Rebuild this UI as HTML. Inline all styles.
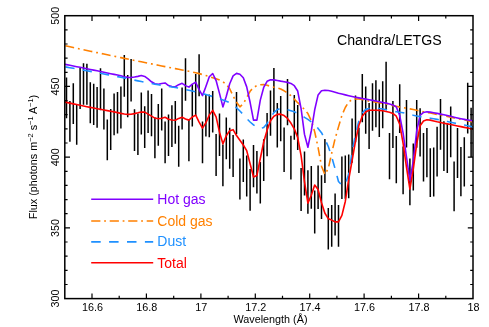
<!DOCTYPE html>
<html><head><meta charset="utf-8"><title>Chandra/LETGS</title>
<style>html,body{margin:0;padding:0;background:#fff}svg{display:block;will-change:transform}text{font-family:"Liberation Sans",sans-serif;fill:#000}</style></head><body>
<svg width="489" height="327" viewBox="0 0 489 327">
<rect width="489" height="327" fill="#fff"/>
<path d="M66.5,77.5V118.3M69.9,101.0V141.7M73.3,83.3V124.0M76.7,104.0V144.7M80.1,67.9V109.1M83.5,63.2V104.8M86.9,63.8V104.8M90.3,82.3V123.2M93.7,83.7V125.1M97.1,87.0V127.7M100.5,68.3V110.3M103.9,88.4V129.5M107.3,119.4V160.2M110.7,109.0V150.0M114.1,93.6V135.2M117.5,92.0V133.6M120.9,86.4V128.4M124.3,55.0V96.7M127.7,75.1V117.2M131.1,59.1V101.4M134.5,109.3V151.0M137.9,113.4V155.1M141.3,92.5V134.6M144.7,106.2V147.9M148.1,90.5V132.9M151.5,93.9V136.2M154.9,117.5V158.2M158.3,104.0V145.7M161.7,88.4V130.5M165.1,121.6V163.3M168.5,114.4V156.1M171.9,105.2V146.9M175.3,101.1V143.8M178.7,125.7V166.7M182.1,87.4V129.5M185.5,58.3V100.7M188.9,119.5V161.2M192.3,84.3V126.4M195.7,74.0V116.1M199.1,54.2V96.2M202.5,121.6V163.3M205.9,95.0V136.6M209.3,94.5V137.2M212.7,90.9V132.5M216.1,133.9V176.0M219.5,113.4V156.1M222.9,144.5V186.2M226.3,117.5V159.2M229.7,127.7V168.7M233.1,134.9V177.0M236.5,92.0V134.2M239.9,158.5V199.5M243.3,139.6V182.1M246.7,155.4V196.5M250.1,169.0V210.7M253.5,145.0V187.2M256.9,151.0V193.4M260.3,161.9V203.6M263.7,139.2V181.1M267.1,112.9V156.3M270.5,90.5V135.7M273.9,68.0V112.2M277.3,103.0V147.5M280.7,96.0V141.2M284.1,127.6V171.9M287.5,79.0V125.2M290.9,135.7V179.5M294.3,95.0V139.8M297.7,105.0V149.9M301.1,168.0V210.9M304.5,151.4V195.5M307.9,170.3V213.7M311.3,166.0V208.8M314.7,190.6V233.5M318.1,165.5V208.9M321.5,175.3V218.9M324.9,139.0V183.0M328.3,208.0V249.5M331.7,205.0V246.8M335.1,193.4V235.5M338.5,205.0V246.8M341.9,156.4V199.1M345.3,155.4V198.7M348.7,154.4V198.3M352.1,118.5V162.7M355.5,95.6V142.3M358.9,127.7V173.0M362.3,74.0V122.2M365.7,86.4V133.7M369.1,103.1V149.1M372.5,83.3V130.7M375.9,80.2V127.2M379.3,89.4V137.1M382.7,81.2V128.3M386.1,61.8V109.9M389.5,133.0V179.2M392.9,101.1V148.0M396.3,136.0V183.2M399.7,84.3V132.9M403.1,146.5V194.2M406.5,100.0V147.4M409.9,158.6V205.2M413.3,143.5V190.5M416.7,100.0V147.7M420.1,108.3V156.4M423.5,132.9V181.4M426.9,127.9V177.2M430.3,148.2V197.1M433.7,147.4V196.4M437.1,126.7V176.4M440.5,99.1V149.7M443.9,121.3V171.1M447.3,124.0V173.0M450.7,106.6V157.3M454.1,161.5V211.2M457.5,128.0V177.9M460.9,147.0V196.3M464.3,137.2V186.5M467.7,82.8V133.6M471.1,107.7V156.9" stroke="#000" stroke-width="1.5" fill="none"/>
<path d="M64.80,45.70 L66.50,46.07 L69.90,46.81 L73.30,47.55 L76.70,48.28 L80.10,49.02 L83.50,49.75 L86.90,50.48 L90.30,51.20 L93.70,51.93 L97.10,52.65 L100.50,53.37 L103.90,54.08 L107.30,54.80 L110.70,55.51 L114.10,56.22 L117.50,56.93 L120.90,57.64 L124.30,58.35 L127.70,59.05 L131.10,59.75 L134.50,60.45 L137.90,61.15 L141.30,61.83 L144.70,62.52 L148.10,63.20 L151.50,63.88 L154.90,64.56 L158.30,65.24 L161.70,65.92 L165.10,66.60 L168.50,67.29 L171.90,67.98 L175.30,68.65 L178.70,69.31 L182.10,69.97 L185.50,70.64 L188.90,71.32 L192.30,72.04 L195.70,72.81 L199.10,73.62 L202.50,74.52 L205.90,75.50 L209.30,76.57 L212.70,77.70 L216.10,78.83 L219.50,80.08 L222.90,81.73 L226.30,84.37 L229.70,88.78 L233.10,95.91 L236.50,102.29 L239.90,106.84 L243.30,103.60 L246.70,97.67 L250.10,91.26 L253.50,87.43 L256.90,85.63 L260.30,84.70 L263.70,84.43 L267.10,85.21 L270.50,86.37 L273.90,87.21 L277.30,88.00 L280.70,89.07 L284.10,90.82 L287.50,92.86 L290.90,95.71 L294.30,99.15 L297.70,102.69 L301.10,105.96 L304.50,109.50 L307.90,113.59 L311.30,120.69 L314.70,131.88 L318.10,147.55 L321.50,166.19 L324.90,174.48 L328.30,168.55 L331.70,153.10 L335.10,138.70 L338.50,126.90 L341.90,115.40 L345.30,107.46 L348.70,101.96 L352.10,99.50 L355.50,99.00 L358.90,99.03 L362.30,99.54 L365.70,100.37 L369.10,101.12 L372.50,101.64 L375.90,102.13 L379.30,102.66 L382.70,103.31 L386.10,104.05 L389.50,104.83 L392.90,105.62 L396.30,106.37 L399.70,107.05 L403.10,107.67 L406.50,108.28 L409.90,108.91 L413.30,109.59 L416.70,110.33 L420.10,111.04 L423.50,111.74 L426.90,112.41 L430.30,113.08 L433.70,113.75 L437.10,114.42 L440.50,115.10 L443.90,115.78 L447.30,116.48 L450.70,117.17 L454.10,117.87 L457.50,118.58 L460.90,119.29 L464.30,120.01 L467.70,120.74 L471.10,121.48 L473.00,121.90" stroke="#ff8000" stroke-width="1.6" fill="none" stroke-dasharray="9.0 3.9 1.85 3.9" stroke-dashoffset="-0.5" stroke-linejoin="round"/>
<path d="M64.80,64.30 L66.50,64.63 L69.90,65.31 L73.30,65.98 L76.70,66.66 L80.10,67.34 L83.50,68.03 L86.90,68.72 L90.30,69.41 L93.70,70.11 L97.10,70.80 L100.50,71.50 L103.90,72.21 L107.30,72.94 L110.70,73.66 L114.10,74.38 L117.50,75.09 L120.90,75.80 L124.30,76.66 L127.70,77.36 L131.10,77.45 L134.50,77.03 L137.90,76.37 L141.30,75.55 L144.70,76.45 L148.10,78.93 L151.50,81.82 L154.90,83.70 L158.30,84.17 L161.70,83.47 L165.10,82.93 L168.50,85.53 L171.90,86.58 L175.30,86.78 L178.70,84.65 L182.10,83.34 L185.50,85.64 L188.90,87.12 L192.30,84.09 L195.70,82.28 L199.10,89.54 L202.50,95.60 L205.90,86.50 L209.30,76.80 L212.70,73.50 L216.10,80.54 L219.50,93.38 L222.90,106.92 L226.30,96.25 L229.70,83.77 L233.10,75.82 L236.50,73.39 L239.90,74.25 L243.30,77.71 L246.70,86.88 L250.10,102.28 L253.50,120.09 L256.90,120.15 L260.30,100.11 L263.70,87.49 L267.10,81.27 L270.50,79.79 L273.90,79.87 L277.30,80.46 L280.70,81.12 L284.10,81.70 L287.50,82.39 L290.90,83.40 L294.30,85.71 L297.70,91.03 L301.10,108.54 L304.50,134.40 L307.90,147.27 L311.30,130.75 L314.70,109.80 L318.10,94.91 L321.50,90.74 L324.90,90.21 L328.30,90.45 L331.70,91.23 L335.10,92.25 L338.50,93.25 L341.90,94.06 L345.30,94.87 L348.70,95.68 L352.10,96.46 L355.50,97.20 L358.90,97.88 L362.30,98.53 L365.70,99.15 L369.10,99.77 L372.50,100.41 L375.90,101.08 L379.30,101.75 L382.70,102.42 L386.10,103.15 L389.50,103.99 L392.90,104.94 L396.30,106.91 L399.70,115.51 L403.10,133.12 L406.50,157.00 L409.90,180.70 L413.30,160.79 L416.70,130.98 L420.10,115.51 L423.50,112.42 L426.90,111.83 L430.30,112.14 L433.70,112.70 L437.10,113.39 L440.50,114.11 L443.90,114.77 L447.30,115.53 L450.70,116.34 L454.10,117.17 L457.50,117.96 L460.90,118.68 L464.30,119.35 L467.70,119.98 L471.10,120.58 L473.00,120.90" stroke="#8000ff" stroke-width="1.6" fill="none" stroke-linejoin="round"/>
<path d="M64.80,66.80 L66.50,67.09 L69.90,67.68 L73.30,68.28 L76.70,68.89 L80.10,69.50 L83.50,70.12 L86.90,70.74 L90.30,71.37 L93.70,72.01 L97.10,72.65 L100.50,73.30 L103.90,73.95 L107.30,74.61 L110.70,75.27 L114.10,75.94 L117.50,76.61 L120.90,77.28 L124.30,77.97 L127.70,78.69 L131.10,79.41 L134.50,80.13 L137.90,80.85 L141.30,81.56 L144.70,82.24 L148.10,82.90 L151.50,83.55 L154.90,84.19 L158.30,84.81 L161.70,85.41 L165.10,85.95 L168.50,86.48 L171.90,87.00 L175.30,87.55 L178.70,88.16 L182.10,88.83 L185.50,89.55 L188.90,90.30 L192.30,91.09 L195.70,91.91 L199.10,92.77 L202.50,93.66 L205.90,94.58 L209.30,95.53 L212.70,96.51 L216.10,97.56 L219.50,98.72 L222.90,99.94 L226.30,101.15 L229.70,102.66 L233.10,104.95 L236.50,107.73 L239.90,111.03 L243.30,114.65 L246.70,118.61 L250.10,121.99 L253.50,124.88 L256.90,127.62 L260.30,128.73 L263.70,127.43 L267.10,123.41 L270.50,117.90 L273.90,112.59 L277.30,109.59 L280.70,108.50 L284.10,108.62 L287.50,109.64 L290.90,110.67 L294.30,111.86 L297.70,113.32 L301.10,115.25 L304.50,117.33 L307.90,119.44 L311.30,121.83 L314.70,124.78 L318.10,128.38 L321.50,132.63 L324.90,139.25 L328.30,146.48 L331.70,156.86 L335.10,168.74 L338.50,181.51 L341.90,185.27 L345.30,184.36 L348.70,174.03 L352.10,152.03 L355.50,134.35 L358.90,121.00 L362.30,112.93 L365.70,109.37 L369.10,108.61 L372.50,108.38 L375.90,108.30 L379.30,108.53 L382.70,109.06 L386.10,109.67 L389.50,110.49 L392.90,111.28 L396.30,111.78 L399.70,112.21 L403.10,112.79 L406.50,113.58 L409.90,114.48 L413.30,115.33 L416.70,116.03 L420.10,116.62 L423.50,117.16 L426.90,117.68 L430.30,118.19 L433.70,118.74 L437.10,119.34 L440.50,120.01 L443.90,120.73 L447.30,121.48 L450.70,122.23 L454.10,122.96 L457.50,123.67 L460.90,124.38 L464.30,125.09 L467.70,125.80 L471.10,126.51 L473.00,126.90" stroke="#1e90ff" stroke-width="1.6" fill="none" stroke-dasharray="9.3 8.26" stroke-dashoffset="-0.6" stroke-linejoin="round"/>
<path d="M64.80,102.00 L66.50,102.38 L69.90,103.13 L73.30,103.86 L76.70,104.59 L80.10,105.30 L83.50,106.00 L86.90,106.68 L90.30,107.36 L93.70,108.03 L97.10,108.68 L100.50,109.33 L103.90,109.96 L107.30,110.59 L110.70,111.21 L114.10,111.88 L117.50,112.63 L120.90,113.36 L124.30,113.96 L127.70,114.33 L131.10,114.31 L134.50,113.62 L137.90,112.83 L141.30,111.96 L144.70,112.15 L148.10,114.13 L151.50,116.13 L154.90,118.07 L158.30,118.80 L161.70,118.25 L165.10,117.28 L168.50,119.30 L171.90,120.04 L175.30,120.27 L178.70,118.42 L182.10,117.13 L185.50,118.96 L188.90,120.12 L192.30,116.97 L195.70,115.08 L199.10,122.18 L202.50,128.10 L205.90,122.73 L209.30,115.13 L212.70,110.40 L216.10,116.93 L219.50,132.14 L222.90,143.83 L226.30,135.76 L229.70,130.65 L233.10,129.68 L236.50,135.54 L239.90,140.22 L243.30,144.97 L246.70,150.60 L250.10,163.80 L253.50,177.00 L256.90,175.50 L260.30,158.50 L263.70,142.00 L267.10,130.17 L270.50,120.80 L273.90,116.28 L277.30,114.42 L280.70,114.15 L284.10,115.60 L287.50,118.42 L290.90,123.03 L294.30,128.89 L297.70,137.53 L301.10,155.69 L304.50,181.82 L307.90,203.10 L311.30,195.30 L314.70,185.06 L318.10,189.49 L321.50,202.73 L324.90,213.25 L328.30,218.70 L331.70,220.11 L335.10,221.89 L338.50,221.90 L341.90,215.39 L345.30,201.48 L348.70,179.67 L352.10,160.50 L355.50,141.07 L358.90,125.21 L362.30,116.18 L365.70,112.03 L369.10,110.32 L372.50,110.22 L375.90,110.28 L379.30,110.39 L382.70,110.74 L386.10,111.45 L389.50,112.33 L392.90,113.40 L396.30,116.21 L399.70,124.16 L403.10,143.29 L406.50,167.35 L409.90,189.20 L413.30,168.92 L416.70,144.21 L420.10,125.73 L423.50,120.99 L426.90,119.82 L430.30,120.13 L433.70,120.99 L437.10,121.82 L440.50,122.52 L443.90,123.20 L447.30,123.89 L450.70,124.57 L454.10,125.26 L457.50,125.95 L460.90,126.65 L464.30,127.36 L467.70,128.07 L471.10,128.80 L473.00,129.20" stroke="#ff0000" stroke-width="1.6" fill="none" stroke-linejoin="round"/>
<path d="M92.0,298.6v-5.2M92.0,15.7v5.2M119.2,298.6v-2.8M119.2,15.7v2.8M146.4,298.6v-5.2M146.4,15.7v5.2M173.7,298.6v-2.8M173.7,15.7v2.8M200.9,298.6v-5.2M200.9,15.7v5.2M228.1,298.6v-2.8M228.1,15.7v2.8M255.3,298.6v-5.2M255.3,15.7v5.2M282.5,298.6v-2.8M282.5,15.7v2.8M309.7,298.6v-5.2M309.7,15.7v5.2M336.9,298.6v-2.8M336.9,15.7v2.8M364.1,298.6v-5.2M364.1,15.7v5.2M391.4,298.6v-2.8M391.4,15.7v2.8M418.6,298.6v-5.2M418.6,15.7v5.2M445.8,298.6v-2.8M445.8,15.7v2.8M64.8,284.5h2.8M473.0,284.5h-2.8M64.8,270.3h2.8M473.0,270.3h-2.8M64.8,256.2h2.8M473.0,256.2h-2.8M64.8,242.0h2.8M473.0,242.0h-2.8M64.8,227.9h5.2M473.0,227.9h-5.2M64.8,213.7h2.8M473.0,213.7h-2.8M64.8,199.6h2.8M473.0,199.6h-2.8M64.8,185.4h2.8M473.0,185.4h-2.8M64.8,171.3h2.8M473.0,171.3h-2.8M64.8,157.2h5.2M473.0,157.2h-5.2M64.8,143.0h2.8M473.0,143.0h-2.8M64.8,128.9h2.8M473.0,128.9h-2.8M64.8,114.7h2.8M473.0,114.7h-2.8M64.8,100.6h2.8M473.0,100.6h-2.8M64.8,86.4h5.2M473.0,86.4h-5.2M64.8,72.3h2.8M473.0,72.3h-2.8M64.8,58.1h2.8M473.0,58.1h-2.8M64.8,44.0h2.8M473.0,44.0h-2.8M64.8,29.8h2.8M473.0,29.8h-2.8" stroke="#000" stroke-width="1.2" fill="none"/>
<rect x="64.8" y="15.7" width="408.2" height="282.9" fill="none" stroke="#000" stroke-width="1.5"/>
<text x="92.4" y="310.7" font-size="10.8" text-anchor="middle">16.6</text>
<text x="146.8" y="310.7" font-size="10.8" text-anchor="middle">16.8</text>
<text x="201.3" y="310.7" font-size="10.8" text-anchor="middle">17</text>
<text x="255.7" y="310.7" font-size="10.8" text-anchor="middle">17.2</text>
<text x="310.1" y="310.7" font-size="10.8" text-anchor="middle">17.4</text>
<text x="364.5" y="310.7" font-size="10.8" text-anchor="middle">17.6</text>
<text x="419.0" y="310.7" font-size="10.8" text-anchor="middle">17.8</text>
<text x="473.4" y="310.7" font-size="10.8" text-anchor="middle">18</text>
<text transform="translate(58.7,298.6) rotate(-90)" font-size="10.8" text-anchor="middle">300</text>
<text transform="translate(58.7,227.9) rotate(-90)" font-size="10.8" text-anchor="middle">350</text>
<text transform="translate(58.7,157.2) rotate(-90)" font-size="10.8" text-anchor="middle">400</text>
<text transform="translate(58.7,86.4) rotate(-90)" font-size="10.8" text-anchor="middle">450</text>
<text transform="translate(58.7,15.7) rotate(-90)" font-size="10.8" text-anchor="middle">500</text>
<text x="270.5" y="322.8" font-size="10.8" text-anchor="middle">Wavelength (Å)</text>
<text transform="translate(36.7,157) rotate(-90)" font-size="10.8" text-anchor="middle">Flux (photons m<tspan font-size="7.4" dy="-3.8">−2</tspan><tspan dy="3.8"> s</tspan><tspan font-size="7.4" dy="-3.8">−1</tspan><tspan dy="3.8"> A</tspan><tspan font-size="7.4" dy="-3.8">−1</tspan><tspan dy="3.8">)</tspan></text>
<text transform="translate(337,44.7) scale(1.012,1.06)" font-size="14">Chandra/LETGS</text>
<path d="M91.2,199.3H153.2" stroke="#8000ff" stroke-width="1.6"/>
<text transform="translate(157.3,203.8) scale(1,1.06)" font-size="14" style="fill:#8000ff">Hot gas</text>
<path d="M91.2,221H153.2" stroke="#ff8000" stroke-width="1.6" stroke-dasharray="9.2 3.75 1.8 3.75"/>
<text transform="translate(157.3,225.5) scale(1,1.06)" font-size="14" style="fill:#ff8000">Cold gas</text>
<path d="M91.2,241.9H153.2" stroke="#1e90ff" stroke-width="1.6" stroke-dasharray="9.5 8.4"/>
<text transform="translate(157.3,246.1) scale(1,1.06)" font-size="14" style="fill:#1e90ff">Dust</text>
<path d="M91.2,262.8H153.2" stroke="#ff0000" stroke-width="1.6"/>
<text transform="translate(157.3,267.6) scale(1,1.06)" font-size="14" style="fill:#ff0000">Total</text>
</svg></body></html>
